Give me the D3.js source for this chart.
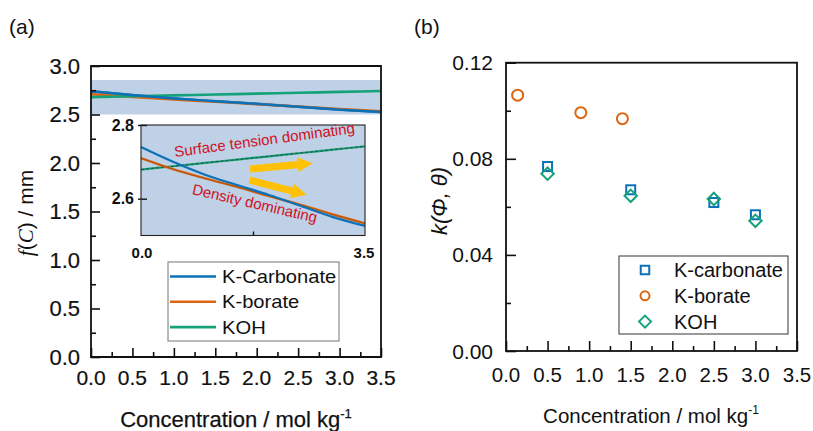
<!DOCTYPE html>
<html><head><meta charset="utf-8">
<script src="https://cdn.jsdelivr.net/npm/d3@7"></script>
<style>
html,body{margin:0;padding:0;background:#fff;}
svg{display:block;}
text{font-family:"Liberation Sans",Arial,sans-serif;fill:#111;}
</style></head><body>
<svg id="c" width="813" height="431"></svg>
<script>
// ---------- data ----------
const conc = [0, 0.5, 1.0, 1.5, 2.0, 2.5, 3.0, 3.5];
const fCarbonate = [2.740, 2.700, 2.665, 2.637, 2.610, 2.580, 2.550, 2.526];
const fBorate    = [2.710, 2.680, 2.655, 2.632, 2.607, 2.583, 2.557, 2.533];
const fKOH       = [2.679, 2.688, 2.697, 2.706, 2.715, 2.724, 2.733, 2.742];
const seriesA = ["K-Carbonate", "K-borate", "KOH"];
const bandRange = [2.5, 2.855];

const kConcCarbonate = [0.5, 1.5, 2.5, 3.0];
const kCarbonate = [0.0768, 0.0671, 0.0618, 0.0567];
const kConcBorate = [0.14, 0.9, 1.4];
const kBorate = [0.1065, 0.0992, 0.0967];
const kConcKOH = [0.5, 1.5, 2.5, 3.0];
const kKOH = [0.0738, 0.0646, 0.0633, 0.0542];
const seriesB = ["K-carbonate", "K-borate", "KOH"];

const xTicks = [0, 0.5, 1.0, 1.5, 2.0, 2.5, 3.0, 3.5];
const yTicksA = [0, 0.5, 1.0, 1.5, 2.0, 2.5, 3.0];
const yTicksB = [0, 0.04, 0.08, 0.12];
const insetYTicks = [2.6, 2.8];
const insetXLabels = ["0.0", "3.5"];

const cBlue = "#0b72b8", cOrange = "#dc6712", cGreen = "#14a27a", cBand = "#bfd1e6", cRed = "#d0101e", cYellow = "#ffc107";
const colorsA = [cBlue, cOrange, cGreen];

const svg = d3.select("#c");
const fmt1 = d3.format(".1f");
const fmt2 = d3.format(".2f");

// ================= Panel (a) =================
const xA = d3.scaleLinear().domain([0, 3.5]).range([91, 381]);
const yA = d3.scaleLinear().domain([0, 3]).range([357, 66]);
const gA = svg.append("g");

svg.append("text").attr("x", 9).attr("y", 34).attr("font-size", 21).text("(a)");

// band
gA.append("rect").attr("x", xA(0)).attr("width", xA(3.5) - xA(0) + 1)
  .attr("y", yA(bandRange[1])).attr("height", yA(bandRange[0]) - yA(bandRange[1]))
  .attr("fill", cBand);

const lineA = d3.line().x((d, i) => xA(conc[i])).y(d => yA(d)).curve(d3.curveMonotoneX);
[fCarbonate, fBorate, fKOH].forEach((arr, i) => {
  gA.append("path").attr("d", lineA(arr)).attr("fill", "none")
    .attr("stroke", colorsA[i]).attr("stroke-width", 2.6);
});
gA.append("path").attr("d", lineA(fCarbonate)).attr("fill", "none").attr("stroke", cBlue).attr("stroke-width", 2.4);

// axes (inward ticks)
const axXA = gA.append("g").attr("transform", `translate(0,${yA(0)})`)
  .call(d3.axisBottom(xA).tickValues(xTicks).tickSize(-9).tickFormat(fmt1));
axXA.selectAll("text").remove();
gA.append("g").attr("transform", `translate(0,${yA(0)})`)
  .call(d3.axisBottom(xA).tickValues(d3.range(0.25, 3.5, 0.5)).tickSize(-5).tickFormat(""));
const axYA = gA.append("g").attr("transform", `translate(${xA(0)},0)`)
  .call(d3.axisLeft(yA).tickValues(yTicksA).tickSize(-9).tickFormat(fmt1));
axYA.selectAll("text").remove();
gA.append("g").attr("transform", `translate(${xA(0)},0)`)
  .call(d3.axisLeft(yA).tickValues(d3.range(0.25, 3, 0.5)).tickSize(-5).tickFormat(""));
gA.selectAll(".domain").remove();
gA.selectAll(".tick line").attr("stroke", "#111").attr("stroke-width", 1.6);

// tick labels
xTicks.forEach(t => {
  gA.append("text").attr("x", xA(t)).attr("y", 385)
    .attr("text-anchor", "middle").attr("font-size", 21).attr("stroke", "#111").attr("stroke-width", 0.2).text(fmt1(t));
});
yTicksA.forEach(t => {
  gA.append("text").attr("x", 80).attr("y", yA(t)).attr("dy", "0.36em")
    .attr("text-anchor", "end").attr("font-size", 22).attr("stroke", "#111").attr("stroke-width", 0.2).text(fmt1(t));
});

// frame
gA.append("path").attr("d", `M${xA(0)},${yA(3)}H${xA(3.5)}V${yA(0)}H${xA(0)}Z`)
  .attr("fill", "none").attr("stroke", "#111").attr("stroke-width", 1.8);

// axis titles
const xtA = gA.append("text").attr("x", 236).attr("y", 427).attr("text-anchor", "middle")
  .attr("font-size", 22).attr("stroke", "#111").attr("stroke-width", 0.25);
xtA.append("tspan").text("Concentration / mol kg");
xtA.append("tspan").attr("dy", -9).attr("font-size", 13).text("-1");

const ytA = gA.append("text").attr("transform", "translate(33,213) rotate(-90)")
  .attr("text-anchor", "middle").attr("font-size", 21);
ytA.append("tspan").attr("font-family", "Liberation Serif, DejaVu Serif, serif").attr("font-style", "italic").text("f");
ytA.append("tspan").text("(");
ytA.append("tspan").attr("font-family", "Liberation Serif, DejaVu Serif, serif").attr("font-style", "italic").text("C");
ytA.append("tspan").text(") / mm");

// ---------- inset ----------
const xI = d3.scaleLinear().domain([0, 3.5]).range([141, 365]);
const yI = d3.scaleLinear().domain([2.5, 2.8]).range([235.5, 125]);
const gI = svg.append("g");
gI.append("rect").attr("x", 141).attr("y", 125).attr("width", 224).attr("height", 110.5).attr("fill", cBand);

const lineI = d3.line().x((d, i) => xI(conc[i])).y(d => yI(d)).curve(d3.curveMonotoneX);
gI.append("path").attr("d", lineI(fKOH)).attr("fill", "none").attr("stroke", cGreen).attr("stroke-width", 2.2);
gI.append("path").attr("d", lineI(fKOH)).attr("fill", "none").attr("stroke", "#2a4a3a").attr("stroke-width", 0.9).attr("stroke-dasharray", "3,2");
gI.append("path").attr("d", lineI(fBorate)).attr("fill", "none").attr("stroke", cOrange).attr("stroke-width", 2.4);
gI.append("path").attr("d", lineI(fBorate)).attr("fill", "none").attr("stroke", "#6b3a1a").attr("stroke-width", 0.7).attr("opacity", 0.6);
gI.append("path").attr("d", lineI(fCarbonate)).attr("fill", "none").attr("stroke", cBlue).attr("stroke-width", 2.2);

gI.append("g").attr("transform", "translate(0,235.5)")
  .call(d3.axisBottom(xI).tickValues([1.75]).tickSize(-4).tickFormat(""));
gI.append("g").attr("transform", "translate(147,0)")
  .call(d3.axisLeft(yI).tickValues(insetYTicks).tickSize(9).tickFormat(""));
gI.selectAll(".domain").remove();
gI.selectAll(".tick line").attr("stroke", "#111").attr("stroke-width", 1.4);
gI.append("rect").attr("x", 141).attr("y", 125).attr("width", 224).attr("height", 110.5)
  .attr("fill", "none").attr("stroke", "#222").attr("stroke-width", 1.1);

insetYTicks.forEach(t => {
  gI.append("text").attr("x", 134).attr("y", yI(t)).attr("dy", "0.36em").attr("text-anchor", "end")
    .attr("font-size", 16).attr("font-weight", "bold").text(fmt1(t));
});
[0, 3.5].forEach((t, i) => {
  gI.append("text").attr("x", xI(t) + (i ? -1 : 1)).attr("y", 258).attr("text-anchor", "middle")
    .attr("font-size", 15).attr("font-weight", "bold").text(insetXLabels[i]);
});

gI.append("text").attr("transform", "translate(175,157) rotate(-7.6)")
  .attr("font-size", 15).style("fill", cRed).text("Surface tension dominating");
gI.append("text").attr("transform", "translate(191.5,194) rotate(13)")
  .attr("font-size", 15).style("fill", cRed).text("Density dominating");

function arrow(x, y, len, ang) {
  const sh = 3.6, hw = 7.5, hl = 15;
  const pts = [[0, -sh], [len - hl, -sh], [len - hl, -hw], [len, 0], [len - hl, hw], [len - hl, sh], [0, sh]];
  gI.append("polygon").attr("points", pts.map(p => p.join(",")).join(" "))
    .attr("transform", `translate(${x},${y}) rotate(${ang})`).attr("fill", cYellow);
}
arrow(250, 169, 63, -5.2);
arrow(249.5, 180, 59, 14.6);

// legend (a)
const lgA = svg.append("g");
lgA.append("rect").attr("x", 168).attr("y", 262).attr("width", 171).attr("height", 79)
  .attr("fill", "#fff").attr("stroke", "#8a8a8a").attr("stroke-width", 1.2);
seriesA.forEach((s, i) => {
  const yy = 276.5 + i * 25.3;
  lgA.append("line").attr("x1", 170).attr("x2", 216).attr("y1", yy).attr("y2", yy)
    .attr("stroke", colorsA[i]).attr("stroke-width", 2.6);
  lgA.append("text").attr("transform", `translate(222,${yy + 6.5}) scale(1.12,1)`).attr("font-size", 18).text(s);
});

// ================= Panel (b) =================
const xB = d3.scaleLinear().domain([0, 3.5]).range([506, 797]);
const yB = d3.scaleLinear().domain([0, 0.12]).range([351, 62.7]);
const gB = svg.append("g");
svg.append("text").attr("x", 414).attr("y", 34).attr("font-size", 21).text("(b)");

const axXB = gB.append("g").attr("transform", `translate(0,${yB(0)})`)
  .call(d3.axisBottom(xB).tickValues(xTicks).tickSize(-10).tickFormat(fmt1));
axXB.selectAll("text").remove();
gB.append("g").attr("transform", `translate(0,${yB(0)})`)
  .call(d3.axisBottom(xB).tickValues(d3.range(0.25, 3.5, 0.5)).tickSize(-5).tickFormat(""));
const axYB = gB.append("g").attr("transform", `translate(${xB(0)},0)`)
  .call(d3.axisLeft(yB).tickValues(yTicksB).tickSize(-10).tickFormat(fmt2));
axYB.selectAll("text").remove();
gB.append("g").attr("transform", `translate(${xB(0)},0)`)
  .call(d3.axisLeft(yB).tickValues([0.02, 0.06, 0.10]).tickSize(-5).tickFormat(""));
gB.selectAll(".domain").remove();
gB.selectAll(".tick line").attr("stroke", "#111").attr("stroke-width", 1.6);
gB.append("rect").attr("x", xB(0)).attr("y", yB(0.12)).attr("width", xB(3.5) - xB(0)).attr("height", yB(0) - yB(0.12))
  .attr("fill", "none").attr("stroke", "#111").attr("stroke-width", 1.8);

xTicks.forEach(t => {
  gB.append("text").attr("x", xB(t)).attr("y", 382).attr("text-anchor", "middle").attr("font-size", 20.5).text(fmt1(t));
});
yTicksB.forEach(t => {
  gB.append("text").attr("x", 493).attr("y", yB(t)).attr("dy", "0.36em").attr("text-anchor", "end").attr("font-size", 21).text(fmt2(t));
});

const xtB = gB.append("text").attr("x", 651).attr("y", 423).attr("text-anchor", "middle").attr("font-size", 20.5);
xtB.append("tspan").text("Concentration / mol kg");
xtB.append("tspan").attr("dy", -9).attr("font-size", 12).text("-1");

const ytB = gB.append("text").attr("transform", "translate(447,201) rotate(-90)")
  .attr("text-anchor", "middle").attr("font-size", 22)
  .attr("font-family", "Liberation Serif, DejaVu Serif, serif").attr("font-style", "italic");
ytB.text("k(Φ, θ)");

// markers
const sqS = 9, diaS = 6.2, cR = 5;
function square(g, x, y, s) { g.append("rect").attr("x", x - s / 2).attr("y", y - s / 2).attr("width", s).attr("height", s).attr("fill", "none").attr("stroke", cBlue).attr("stroke-width", 2); }
function circle(g, x, y, r) { g.append("circle").attr("cx", x).attr("cy", y).attr("r", r).attr("fill", "none").attr("stroke", cOrange).attr("stroke-width", 2); }
function diamond(g, x, y, s) { g.append("path").attr("d", `M${x},${y - s}L${x + s},${y}L${x},${y + s}L${x - s},${y}Z`).attr("fill", "none").attr("stroke", cGreen).attr("stroke-width", 2); }

kCarbonate.forEach((v, i) => square(gB, xB(kConcCarbonate[i]), yB(v), sqS));
kBorate.forEach((v, i) => circle(gB, xB(kConcBorate[i]), yB(v), cR + 0.5));
kKOH.forEach((v, i) => diamond(gB, xB(kConcKOH[i]), yB(v), diaS));

// legend (b)
const lgB = svg.append("g");
lgB.append("rect").attr("x", 619).attr("y", 256).attr("width", 169).attr("height", 78)
  .attr("fill", "#fff").attr("stroke", "#555").attr("stroke-width", 1.2);
seriesB.forEach((s, i) => {
  const yy = 270 + i * 25.8;
  if (i === 0) square(lgB, 645, yy, 8.5);
  if (i === 1) circle(lgB, 645, yy, 4.5);
  if (i === 2) diamond(lgB, 645, yy, 6);
  lgB.append("text").attr("x", 674).attr("y", yy + 7).attr("font-size", 20).text(s);
});
</script>
</body></html>
